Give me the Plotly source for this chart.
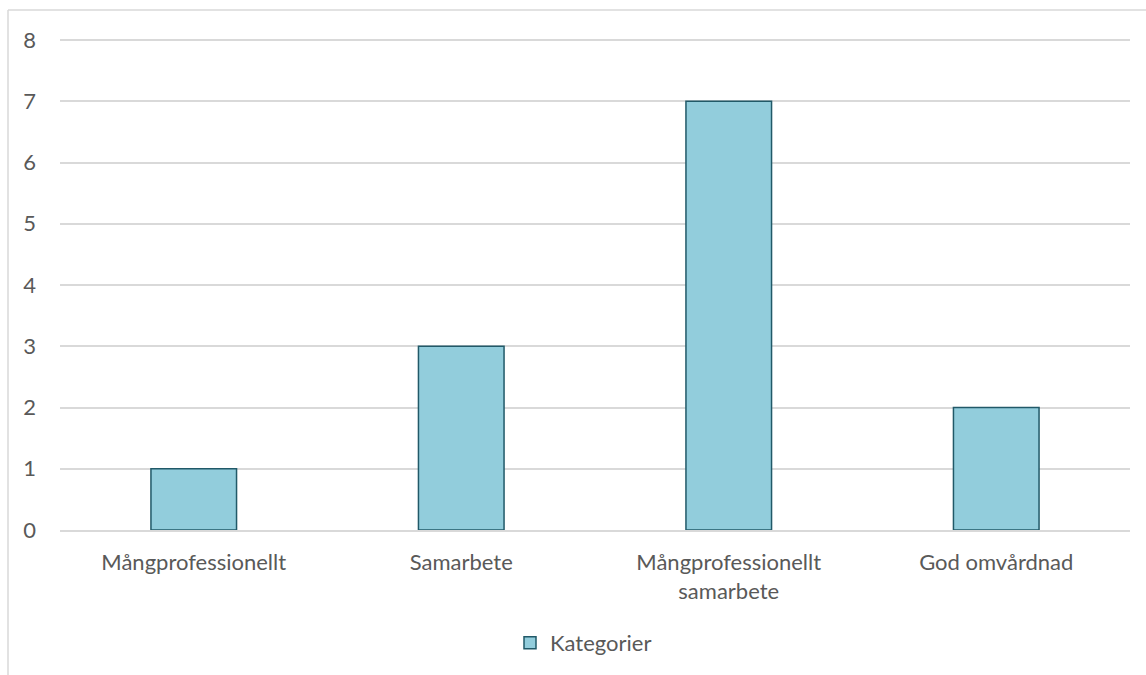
import plotly.graph_objects as go

categories = ["Mångprofessionellt", "Samarbete", "Mångprofessionellt<br>samarbete", "God omvårdnad"]
values = [1, 3, 7, 2]
series_name = "Kategorier"
y_ticks = [0, 1, 2, 3, 4, 5, 6, 7, 8]

W, H = 1146, 675
L, R, T, B = 60, 16, 37, 144
pw, ph = W - L - R, H - T - B
FS = 22

fig = go.Figure()
fig.add_trace(go.Bar(
    x=categories, y=values, name=series_name,
    marker=dict(color="#92CDDC", line=dict(color="#215968", width=1.5)),
    showlegend=True,
))

fig.update_layout(
    width=W, height=H,
    margin=dict(l=L, r=R, t=T, b=B),
    paper_bgcolor="white", plot_bgcolor="white",
    font=dict(family="Lato, Carlito, Calibri, sans-serif", size=FS, color="#595959"),
    bargap=0.68,
    showlegend=True,
    legend=dict(orientation="h", x=(510 - L) / pw, xanchor="left", y=(T + ph - 643) / ph, yanchor="middle",
                font=dict(size=FS, color="#595959"), itemwidth=30),
    xaxis=dict(showgrid=False, showline=True, linecolor="#d9d9d9", linewidth=1.5,
               ticks="", ticklabelstandoff=12, tickfont=dict(size=FS)),
    yaxis=dict(range=[0, 8.05], tickvals=y_ticks, showgrid=True, gridcolor="#d9d9d9", gridwidth=1.5,
               zeroline=False, showline=False, ticks="", ticklabelstandoff=23, tickfont=dict(size=FS)),
    shapes=[
        dict(type="line", xref="paper", yref="paper",
             x0=(8 - L) / pw, x1=(W - L) / pw, y0=1 + (T - 10) / ph, y1=1 + (T - 10) / ph,
             line=dict(color="#d9d9d9", width=1.5)),
        dict(type="line", xref="paper", yref="paper",
             x0=(8 - L) / pw, x1=(8 - L) / pw, y0=1 + (T - 10) / ph, y1=-(B + 5) / ph,
             line=dict(color="#d9d9d9", width=1.5)),
    ],
)

fig.write_html("out.html")
